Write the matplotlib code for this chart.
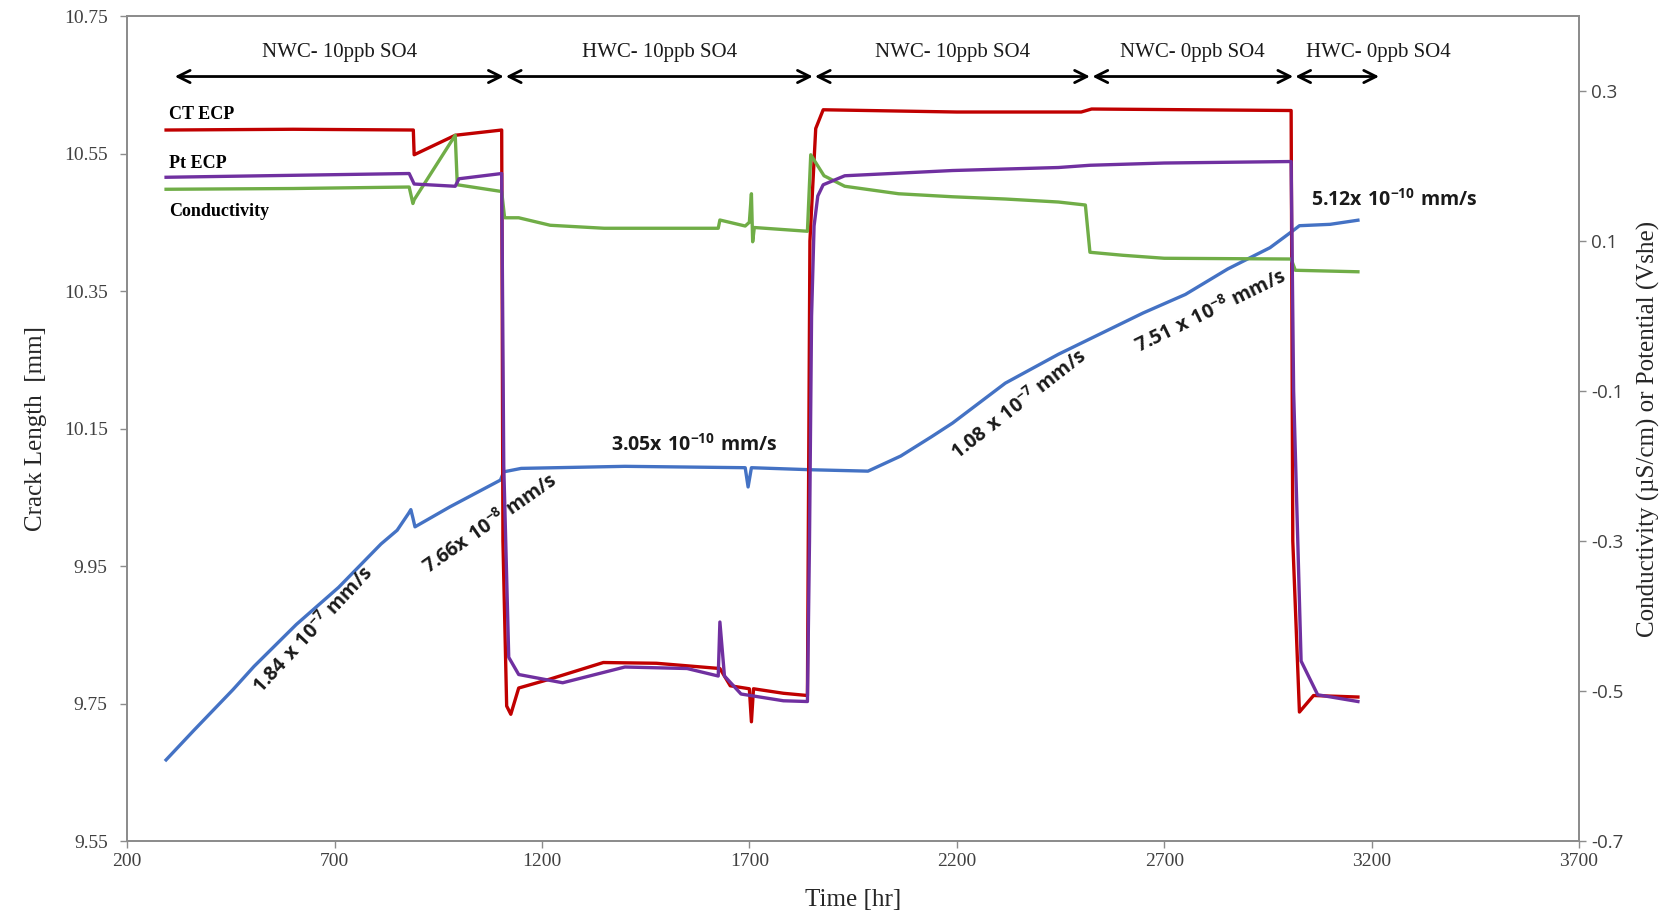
import matplotlib
matplotlib.use("Agg")
import matplotlib.pyplot as plt

# crack length (left axis, mm)
t_crack = [294, 361, 455, 506, 608, 710, 812, 851, 879, 884, 889, 894, 978, 1100, 1108,
           1150, 1400, 1690, 1697, 1705, 1850, 1986, 2065, 2139, 2190, 2317, 2445, 2547,
           2649, 2751, 2853, 2955, 3011, 3026, 3100, 3167]
crack = [9.668, 9.711, 9.770, 9.804, 9.865, 9.919, 9.982, 10.002, 10.027, 10.032, 10.020,
         10.007, 10.036, 10.075, 10.087, 10.092, 10.095, 10.093, 10.065, 10.093, 10.090,
         10.088, 10.110, 10.138, 10.158, 10.216, 10.258, 10.288, 10.318, 10.345, 10.382,
         10.413, 10.438, 10.445, 10.447, 10.453]

# CT ECP (right axis, Vshe)
t_ct = [294, 600, 890, 892, 991, 1103, 1106, 1115, 1125, 1144, 1220, 1348, 1476, 1629,
        1654, 1700, 1705, 1710, 1782, 1840, 1846, 1860, 1878, 2200, 2500, 2525, 3006,
        3010, 3026, 3060, 3167]
ct_ecp = [0.248, 0.249, 0.248, 0.215, 0.241, 0.248, -0.30, -0.52, -0.531, -0.496, -0.484,
          -0.462, -0.463, -0.470, -0.493, -0.497, -0.541, -0.497, -0.503, -0.506, 0.10,
          0.25, 0.275, 0.272, 0.272, 0.276, 0.274, -0.30, -0.528, -0.506, -0.508]

# Pt ECP (right axis, Vshe)
t_pt = [294, 880, 892, 991, 1000, 1103, 1108, 1120, 1144, 1250, 1400, 1550, 1625, 1629,
        1640, 1680, 1782, 1840, 1845, 1850, 1856, 1865, 1878, 1930, 2190, 2445, 2521, 2700,
        3006, 3012, 3030, 3070, 3167]
pt_ecp = [0.185, 0.190, 0.176, 0.173, 0.183, 0.190, -0.20, -0.455, -0.478, -0.489, -0.468,
          -0.470, -0.480, -0.408, -0.480, -0.504, -0.513, -0.514, -0.30, 0.0, 0.12, 0.160,
          0.175, 0.187, 0.194, 0.198, 0.201, 0.204, 0.206, -0.10, -0.46, -0.505, -0.514]

# conductivity (right axis, uS/cm)
t_cond = [294, 600, 880, 889, 892, 991, 996, 1103, 1110, 1144, 1220, 1350, 1625, 1629,
          1690, 1700, 1705, 1708, 1712, 1840, 1848, 1880, 1930, 2060, 2190, 2317, 2445,
          2510, 2521, 2600, 2700, 3006, 3016, 3167]
cond = [0.169, 0.170, 0.172, 0.150, 0.155, 0.241, 0.175, 0.166, 0.131, 0.131, 0.121, 0.117,
        0.117, 0.128, 0.120, 0.125, 0.163, 0.099, 0.118, 0.113, 0.215, 0.187, 0.173, 0.163,
        0.159, 0.156, 0.152, 0.148, 0.085, 0.081, 0.077, 0.076, 0.061, 0.059]

# chemistry regions: (label, start, end)
regions = [("NWC- 10ppb SO4", 315, 1108), ("HWC- 10ppb SO4", 1113, 1853),
           ("NWC- 10ppb SO4", 1858, 2521), ("NWC- 0ppb SO4", 2527, 3011),
           ("HWC- 0ppb SO4", 3016, 3218)]

# crack growth rates: (text, t, crack length, angle)
rates = [(r"$\mathbf{1.84\ x\ 10^{-7}\ mm/s}$", 646, 9.858, 47),
         (r"$\mathbf{7.66x\ 10^{-8}\ mm/s}$", 1075, 10.012, 35),
         (r"$\mathbf{3.05x\ 10^{-10}\ mm/s}$", 1567, 10.127, 0),
         (r"$\mathbf{1.08\ x\ 10^{-7}\ mm/s}$", 2348, 10.186, 38),
         (r"$\mathbf{7.51\ x\ 10^{-8}\ mm/s}$", 2810, 10.322, 26),
         (r"$\mathbf{5.12x\ 10^{-10}\ mm/s}$", 3254, 10.484, 0)]

plt.rcParams['mathtext.fontset'] = 'custom'
plt.rcParams['mathtext.rm'] = 'Open Sans'
plt.rcParams['mathtext.bf'] = 'Open Sans:bold'

serif = 'Liberation Serif'
grey = '#8c8c8c'
tick_col = '#404040'

fig = plt.figure(figsize=(16.59, 9.10), dpi=100)
ax = fig.add_axes([0.0766, 0.0758, 0.8752, 0.9066])
ax2 = ax.twinx()

ax.plot(t_crack, crack, color='#4472C4', lw=2.4)
ax2.plot(t_ct, ct_ecp, color='#C00000', lw=2.4)
ax2.plot(t_cond, cond, color='#70AD47', lw=2.4)
ax2.plot(t_pt, pt_ecp, color='#7030A0', lw=2.4)

ax.set_xlim(200, 3700)
ax.set_ylim(9.55, 10.75)
ax2.set_ylim(-0.7, 0.4)
ax.set_xticks(range(200, 3701, 500))
ax.set_yticks([9.55, 9.75, 9.95, 10.15, 10.35, 10.55, 10.75])
ax.set_yticklabels(['9.55', '9.75', '9.95', '10.15', '10.35', '10.55', '10.75'])
ax2.set_yticks([-0.7, -0.5, -0.3, -0.1, 0.1, 0.3])
ax2.set_yticklabels(['-0.7', '-0.5', '-0.3', '-0.1', '0.1', '0.3'])

for a in (ax, ax2):
    for s in a.spines.values():
        s.set_color(grey)
        s.set_linewidth(1.3)
ax.tick_params(colors=grey, labelcolor=tick_col, length=5, width=1, labelsize=14)
ax.tick_params(axis='y', pad=9)
ax2.tick_params(colors=grey, labelcolor=tick_col, length=5, width=1, labelsize=13.5)
for lab in ax.get_xticklabels() + ax.get_yticklabels():
    lab.set_family(serif)
for lab in ax2.get_yticklabels():
    lab.set_family('Open Sans')

ax.set_xlabel('Time [hr]', family=serif, fontsize=18, color='#262626', labelpad=14)
ax.set_ylabel('Crack Length  [mm]', family=serif, fontsize=18, color='#262626', labelpad=12)
ax2.set_ylabel('Conductivity (\u00b5S/cm) or Potential (Vshe)', family=serif, fontsize=18,
               color='#262626', labelpad=10)

# region arrows and labels
for name, t0, t1 in regions:
    ax.annotate('', xy=(t1, 10.662), xytext=(t0, 10.662),
                arrowprops=dict(arrowstyle='<->', color='black', lw=2, mutation_scale=22,
                                shrinkA=0, shrinkB=0))
    ax.text((t0 + t1) / 2 + (100 if t1 - t0 < 300 else 0), 10.697, name, family=serif,
            fontsize=15, ha='center', va='center', color='#1a1a1a')

ax.text(302, 10.607, 'CT ECP', family=serif, fontsize=13, weight='bold', va='center')
ax.text(302, 10.535, 'Pt ECP', family=serif, fontsize=13, weight='bold', va='center')
ax.text(302, 10.465, 'Conductivity', family=serif, fontsize=13, weight='bold', va='center')

for txt, t, y, ang in rates:
    ax.text(t, y, txt, fontsize=14, rotation=ang, rotation_mode='anchor',
            ha='center', va='center', color='#1a1a1a')

fig.savefig('out.png', dpi=100)
